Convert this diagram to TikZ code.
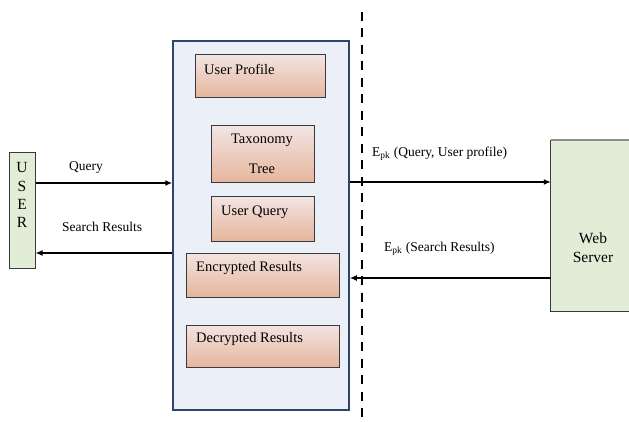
\documentclass[tikz,border=0pt]{standalone}
\usepackage{fontspec}
\setmainfont{Liberation Serif}
\usetikzlibrary{arrows.meta}
\definecolor{mainfill}{HTML}{EBEFF8}
\definecolor{mainline}{HTML}{2E4470}
\definecolor{grfill}{HTML}{E2EDD8}
\definecolor{boxtop}{HTML}{F2E4E2}
\definecolor{boxbot}{HTML}{E6B59C}
\definecolor{boxline}{HTML}{3A3A3A}
\tikzset{
  inbox/.style={draw=boxline, line width=1pt, top color=boxtop, bottom color=boxbot, shading angle=0, inner sep=0pt},
  green box/.style={fill=grfill, inner sep=0pt},
  arr/.style={line width=1.4pt, -{Latex[length=7pt,width=6pt]}},
  inlabel/.style={font=\fontsize{14.5}{17}\selectfont, inner sep=0pt},
  clabel/.style={font=\fontsize{13.5}{16}\selectfont, inner sep=0pt},
  biglabel/.style={font=\fontsize{15.5}{18}\selectfont, inner sep=0pt},
}
\begin{document}
\begin{tikzpicture}[x=1pt,y=-1pt]
\useasboundingbox (0,0) rectangle (629,422);
% main box
\node[draw=mainline, line width=1.5pt, fill=mainfill, minimum width=176pt, minimum height=369pt, inner sep=0pt] (main) at (261,225.5) {};
% inner boxes
\node[inbox, minimum width=130pt, minimum height=43pt] (up) at (260,76.5) {};
\node[inbox, minimum width=103pt, minimum height=57pt] (tt) at (262.5,154.5) {};
\node[inbox, minimum width=103pt, minimum height=44pt] (uq) at (262.5,219) {};
\node[inbox, minimum width=153pt, minimum height=44pt] (er) at (262.5,275) {};
\node[inbox, minimum width=153pt, minimum height=42pt] (dr) at (262.5,346) {};
\node[inlabel, anchor=west] (upl) at (204,69) {User Profile};
\node[inlabel] (ttl1) at (262,140) {Taxonomy};
\node[inlabel] (ttl2) at (262,168.5) {Tree};
\node[inlabel, anchor=west] (uql) at (221,212) {User Query};
\node[inlabel, anchor=west] (erl) at (196,268) {Encrypted Results};
\node[inlabel, anchor=west] (drl) at (196,339) {Decrypted Results};
% user box
\node[green box, draw=boxline, line width=1pt, minimum width=26pt, minimum height=115pt] (user) at (22,210.5) {};
\node[biglabel] (u1) at (22,168) {U};
\node[biglabel] (u2) at (22,186.5) {S};
\node[biglabel] (u3) at (22,204.5) {E};
\node[biglabel] (u4) at (22,222.5) {R};
% web server
\node[green box, minimum width=78pt, minimum height=171pt] (ws) at (590,225.5) {};
\draw[draw=gray!90, line width=2pt] (ws.north west) -- (ws.north east);
\draw[draw=boxline, line width=1pt] (ws.north west) -- (ws.south west) -- (ws.south east);
\node[biglabel, align=center] (wsl) at (593,248) {Web\\[1pt]Server};
% dashed divider
\coordinate (dtop) at (362,12);
\coordinate (dbot) at (362,422);
\draw[line width=2.6pt, dash pattern=on 9pt off 7.5pt] (dtop) -- (dbot);
% connectors
\coordinate (yq) at (0,183);
\coordinate (ys) at (0,253);
\coordinate (yw) at (0,182);
\coordinate (yr) at (0,278);
\draw[arr] (user.east |- yq) -- (main.west |- yq);
\draw[arr] (main.west |- ys) -- (user.east |- ys);
\draw[arr] (main.east |- yw) -- (ws.west |- yw);
\draw[arr] (ws.west |- yr) -- (main.east |- yr);
\node[clabel, anchor=west] (ql) at (69,167) {Query};
\node[clabel, anchor=west] (sl) at (62,227) {Search Results};
\node[clabel, anchor=west] (el1) at (372,154) {E\textsubscript{pk} (Query, User profile)};
\node[clabel, anchor=west] (el2) at (384,249) {E\textsubscript{pk} (Search Results)};
\end{tikzpicture}
\end{document}
